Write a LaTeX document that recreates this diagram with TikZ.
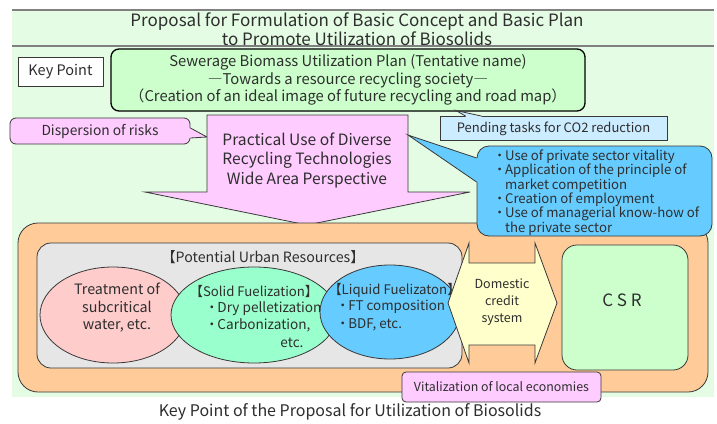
\documentclass[tikz,border=0pt]{standalone}
\usepackage{fontspec}
\setmainfont{Noto Sans CJK JP}
\usetikzlibrary{shapes,positioning}

\definecolor{bggreen}{HTML}{E4FCE4}
\definecolor{plangreen}{HTML}{CCFFCC}
\definecolor{riskpink}{HTML}{FFCCFF}
\definecolor{taskblue}{HTML}{CCECFF}
\definecolor{skyblue}{HTML}{66CCFF}
\definecolor{peach}{HTML}{FFCC99}
\definecolor{panelgray}{HTML}{E6E6E6}
\definecolor{rosepink}{HTML}{FFCCCC}
\definecolor{mintgreen}{HTML}{99FFCC}
\definecolor{creamy}{HTML}{FFFFCC}
\definecolor{edge}{HTML}{383838}
\definecolor{txt}{HTML}{2E2E2E}

\newcommand{\fsz}[2]{\fontsize{#1}{#2}\selectfont}
\newcommand{\bul}{\makebox[0.8em][c]{・}}

\begin{document}
\begin{tikzpicture}[x=1pt, y=-1pt, font=\fsz{13}{16}, text=txt,
    edgeline/.style={draw=edge, line width=0.8pt},
    flatbox/.style={edgeline, rectangle, inner sep=0pt},
    roundbox/.style={edgeline, rectangle, rounded corners=#1, inner sep=0pt},
    blob/.style={edgeline, ellipse, inner sep=0pt}]

    % Draw page and background
    \useasboundingbox (0,0) rectangle (717,423);
    \fill[white] (0,0) rectangle (717,423);
    \fill[bggreen] (12,10) rectangle (714,397);
    \draw[gray, line width=1.2pt] (12,10) -- (714,10);
    \draw[gray, line width=1.6pt] (12,46) -- (714,46);

    % Title
    \node[align=center, font=\fsz{17}{18.5}] (title) at (357,29)
      {Proposal for Formulation of Basic Concept and Basic Plan\\to Promote Utilization of Biosolids};

    % Key point and plan
    \node[flatbox, fill=white, minimum width=85pt, minimum height=29pt, font=\fsz{14.5}{16}] (key) at (60.5,71.5) {Key Point};
    \node[roundbox=8pt, draw=black, line width=1.3pt, fill=plangreen, minimum width=474pt,
      minimum height=62pt, align=center, font=\fsz{14.8}{17.3}] (plan) at (348,80)
      {Sewerage Biomass Utilization Plan (Tentative name)\\―Towards a resource recycling society―\\（Creation of an ideal image of future recycling and road map）};

    % Pending tasks callout
    \node[flatbox, fill=taskblue, minimum width=227pt, minimum height=24pt] (task) at (553.5,128.5)
      {Pending tasks for CO2 reduction};
    \coordinate (tasktip) at (456,110.5);
    \coordinate (taska) at ([xshift=26pt]task.north west);
    \coordinate (taskb) at ([xshift=42pt]task.north west);
    \fill[taskblue] (taska) -- (tasktip) -- (taskb) -- ([yshift=-2pt]taskb) -- ([yshift=-2pt]taska) -- cycle;
    \draw[edgeline] (taska) -- (tasktip) -- (taskb);

    % Dispersion of risks callout
    \node[roundbox=6pt, fill=riskpink, minimum width=180pt, minimum height=26pt, font=\fsz{13.8}{16}] (risk) at (100,131)
      {Dispersion of risks};
    \coordinate (risktip) at (207,137);
    \coordinate (riska) at ([yshift=3pt]risk.east);
    \coordinate (riskb) at ([yshift=-7pt]risk.east);
    \fill[riskpink] (riska) -- (risktip) -- (riskb) -- ([xshift=-2pt]riskb) -- ([xshift=-2pt]riska) -- cycle;
    \draw[edgeline] (riska) -- (risktip) -- (riskb);

    % Draw practical-use arrow
    \draw[edgeline, fill=riskpink] (207,115) -- (408,115) -- (408,192) -- (470,192) -- (307,225)
      -- (145,192) -- (207,192) -- cycle;
    \node[align=center, font=\fsz{15.6}{19.5}] (use) at (307,160)
      {Practical Use of Diverse\\Recycling Technologies\\Wide Area Perspective};

    % Urban resources panel
    \node[roundbox=20pt, fill=peach, minimum width=690pt, minimum height=169pt] (outer) at (363,307.5) {};
    \node[roundbox=14pt, fill=panelgray, minimum width=425pt, minimum height=125pt] (panel) at (249.5,305.5) {};
    \node[font=\fsz{14.2}{16}] (urban) at (263,257) {【Potential Urban Resources】};

    % Draw ellipses
    \node[blob, fill=rosepink, minimum width=146pt, minimum height=96pt] (water) at (113,315) {};
    \node[align=center, font=\fsz{14.3}{17.5}] (watertext) at (117,308) {Treatment of\\subcritical\\water, etc.};

    \node[blob, fill=mintgreen, minimum width=166pt, minimum height=96pt] (solid) at (254,315) {};
    \node[font=\fsz{13.2}{17.5}] (solidhead) at (254,291) {【Solid Fuelization】};
    \node[align=left, anchor=north west, font=\fsz{13.6}{17.5}] (solidtext) at (203,298)
      {\bul Dry pelletization\\\bul Carbonization,};
    \node[anchor=east, font=\fsz{13.6}{17.5}] (soliddots) at (307,343) {etc.};

    \node[blob, fill=skyblue, minimum width=140pt, minimum height=94pt] (liquid) at (390,312) {};
    \node[anchor=west, font=\fsz{13.2}{17.5}] (liquidhead) at (325,290) {【Liquid Fuelizaton】};
    \node[align=left, anchor=north west, font=\fsz{13.4}{17.5}] (liquidtext) at (334,297)
      {\bul FT composition\\\bul BDF, etc.};

    % Draw domestic credit arrow
    \draw[edgeline, fill=creamy] (448,303) -- (469,243) -- (469,263) -- (535,263) -- (535,243)
      -- (557,303) -- (535,363) -- (535,345) -- (469,345) -- (469,363) -- cycle;
    \node[align=center, font=\fsz{12.5}{17}] (credit) at (502,302) {Domestic\\credit\\system};

    % CSR
    \node[roundbox=15pt, fill=plangreen, minimum width=126pt, minimum height=125pt] (csr) at (625,307.5) {};
    \node[font=\fsz{17}{20}] (csrtext) at (622,300) {C S R};

    % Merits callout
    \node[roundbox=12pt, fill=skyblue, minimum width=235pt, minimum height=90pt] (merit) at (594.5,191) {};
    \coordinate (merittip) at (408,135);
    \coordinate (merita) at ([yshift=33pt]merit.west);
    \coordinate (meritb) at ([yshift=9pt]merit.west);
    \fill[skyblue] (merita) -- (merittip) -- (meritb) -- ([xshift=3pt]meritb) -- ([xshift=3pt]merita) -- cycle;
    \draw[edgeline] (merita) -- (merittip) -- (meritb);
    \node[align=left, anchor=north west, font=\fsz{13.2}{14.4}] (merittext) at (491,146)
      {\bul Use of private sector vitality\\\bul Application of the principle of\\\hspace{0.8em}market competition\\
       \bul Creation of employment\\\bul Use of managerial know-how of\\\hspace{0.8em}the private sector};

    % Vitalization and caption
    \node[roundbox=4pt, fill=riskpink, minimum width=199pt, minimum height=30pt, font=\fsz{12.4}{16}] (local) at (501.5,387)
      {Vitalization of local economies};
    \node[font=\fsz{16}{18}] (caption) at (350,412) {Key Point of the Proposal for Utilization of Biosolids};

\end{tikzpicture}
\end{document}
